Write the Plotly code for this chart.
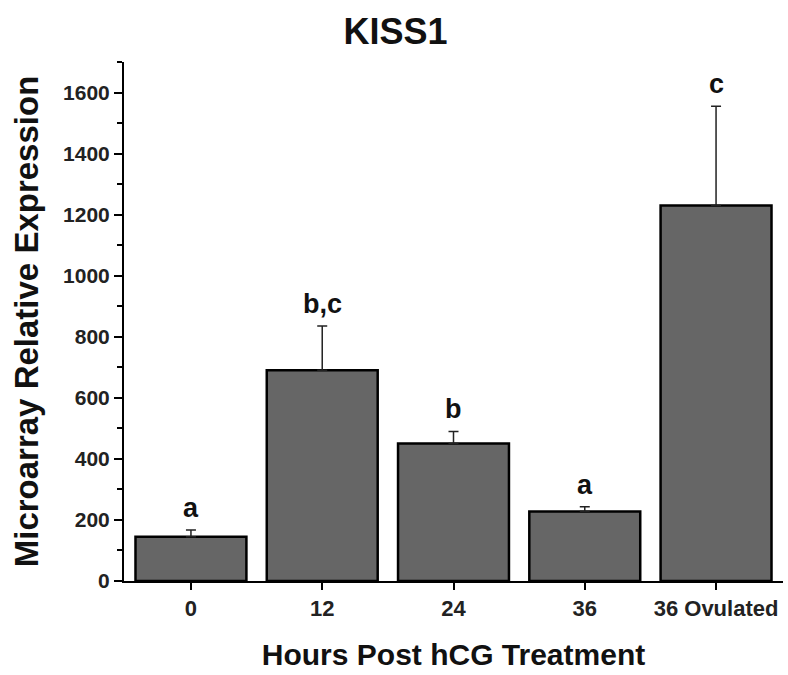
import plotly.graph_objects as go

categories = ["0", "12", "24", "36", "36 Ovulated"]
means = [145, 690, 450, 228, 1230]
errors = [22, 145, 40, 15, 325]
letters = ["a", "b,c", "b", "a", "c"]

FONT = "Liberation Sans, Arial, sans-serif"

fig = go.Figure()
fig.add_trace(go.Bar(
    x=list(range(len(categories))), y=means,
    marker=dict(color="#666666", line=dict(color="#000000", width=2.5)),
    error_y=dict(type="data", array=errors, symmetric=False, arrayminus=[0] * len(errors),
                 color="#222222", thickness=1.5, width=5),
    width=0.845,
))

for i, (m, e, t) in enumerate(zip(means, errors, letters)):
    fig.add_annotation(x=i, y=m + e, text="<b>%s</b>" % t, showarrow=False,
                       yanchor="bottom", yshift=5,
                       font=dict(family=FONT, size=27, color="#111111"))

fig.update_layout(
    width=788, height=675,
    margin=dict(l=124, r=5, t=62, b=94, autoexpand=False),
    paper_bgcolor="white", plot_bgcolor="white",
    showlegend=False,
    title=dict(text="<b>KISS1</b>", x=0.502, xanchor="center", xref="container",
               y=0.954, yanchor="middle", yref="container",
               font=dict(family=FONT, size=36, color="#111111")),
    xaxis=dict(
        range=[-0.51, 4.51],
        tickmode="array", tickvals=list(range(len(categories))), ticktext=categories,
        showline=True, linecolor="#000000", linewidth=2,
        ticks="outside", ticklen=7, tickwidth=2, tickcolor="#000000",
        tickfont=dict(family=FONT, size=22, color="#222222", weight="bold"),
        title=dict(text="<b>Hours Post hCG Treatment</b>", standoff=24,
                   font=dict(family=FONT, size=30, color="#111111")),
        showgrid=False, zeroline=False, automargin=False,
    ),
    yaxis=dict(
        range=[0, 1700], dtick=200, tick0=0,
        showline=True, linecolor="#000000", linewidth=2,
        ticks="outside", ticklen=8, tickwidth=2, tickcolor="#000000",
        minor=dict(dtick=100, ticks="outside", ticklen=5, tickwidth=1.5, tickcolor="#000000", showgrid=False),
        tickfont=dict(family=FONT, size=21, color="#222222", weight="bold"),
        title=dict(text="<b>Microarray Relative Expression</b>", standoff=15,
                   font=dict(family=FONT, size=33, color="#111111")),
        showgrid=False, zeroline=False, automargin=False,
    ),
)

fig.write_html("out.html", config={"displayModeBar": False},
               post_script="document.body.style.margin='0';")
